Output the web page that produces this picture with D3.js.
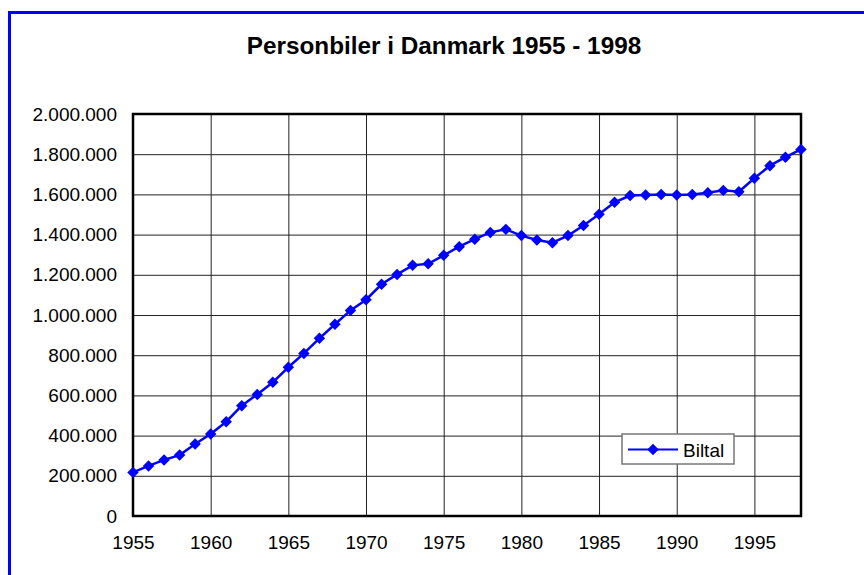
<!DOCTYPE html>
<html>
<head>
<meta charset="utf-8">
<script src="https://cdn.jsdelivr.net/npm/d3@7"></script>
<style>
  body { margin: 0; background: #fff; }
  svg text { font-family: "Liberation Sans", Arial, sans-serif; fill: #000; }
</style>
</head>
<body>
<div id="chart"></div>
<script>
// data
const years = [1955,1956,1957,1958,1959,1960,1961,1962,1963,1964,1965,1966,1967,1968,1969,
    1970,1971,1972,1973,1974,1975,1976,1977,1978,1979,1980,1981,1982,1983,1984,
    1985,1986,1987,1988,1989,1990,1991,1992,1993,1994,1995,1996,1997,1998];
const biltal = [217000,249000,279000,303000,358000,408000,469000,549000,605000,665000,740000,809000,884000,954000,1023000,
    1076000,1153000,1202000,1247000,1255000,1297000,1340000,1377000,1411000,1426000,1395000,1373000,1360000,1395000,1445000,
    1501000,1561000,1594000,1597000,1600000,1597000,1600000,1608000,1620000,1613000,1680000,1743000,1785000,1824000];
const yTicks = [0,200000,400000,600000,800000,1000000,1200000,1400000,1600000,1800000,2000000];
const xTicks = [1955,1960,1965,1970,1975,1980,1985,1990,1995];
const title = "Personbiler i Danmark 1955 - 1998";
const seriesName = "Biltal";

const W = 864, H = 575;
const plot = {l: 133, t: 114, r: 801, b: 516};

const svg = d3.select("#chart").append("svg")
    .attr("width", W).attr("height", H);

// outer chart border (runs off the right and bottom edge)
svg.append("rect")
    .attr("x", 9.5).attr("y", 12.5)
    .attr("width", W + 20).attr("height", H + 20)
    .attr("fill", "none").attr("stroke", "#0000ff").attr("stroke-width", 3);

svg.append("text").text(title)
    .attr("x", 444).attr("y", 54)
    .attr("text-anchor", "middle")
    .style("font-size", "24.3px").style("font-weight", "bold");

const x = d3.scaleLinear().domain([1955, 1998]).range([plot.l, plot.r]);
const y = d3.scaleLinear().domain([0, 2000000]).range([plot.b, plot.t]);

// thousands with dots, danish style
const fmt = d3.formatLocale({decimal: ",", thousands: ".", grouping: [3], currency: ["", " kr"]}).format(",");

// gridlines
svg.append("g").attr("class", "grid")
    .attr("transform", "translate(0," + plot.b + ")")
    .call(d3.axisBottom(x).tickValues(xTicks).tickSize(-(plot.b - plot.t)).tickFormat(""))
    .call(g => g.select(".domain").remove())
    .selectAll("line").attr("stroke", "#222").attr("stroke-width", 1);

svg.append("g").attr("class", "grid")
    .attr("transform", "translate(" + plot.l + ",0)")
    .call(d3.axisLeft(y).tickValues(yTicks).tickSize(-(plot.r - plot.l)).tickFormat(""))
    .call(g => g.select(".domain").remove())
    .selectAll("line").attr("stroke", "#222").attr("stroke-width", 1);

// plot frame
svg.append("rect")
    .attr("x", plot.l).attr("y", plot.t)
    .attr("width", plot.r - plot.l).attr("height", plot.b - plot.t)
    .attr("fill", "none").attr("stroke", "#000").attr("stroke-width", 2.5);

// axis labels
const yAxis = svg.append("g")
    .attr("transform", "translate(" + plot.l + ",0)")
    .call(d3.axisLeft(y).tickValues(yTicks).tickSize(0).tickPadding(16).tickFormat(fmt));
yAxis.select(".domain").remove();
yAxis.selectAll("text").style("font-size", "19px").attr("fill", "#000");

const xAxis = svg.append("g")
    .attr("transform", "translate(0," + plot.b + ")")
    .call(d3.axisBottom(x).tickValues(xTicks).tickSize(0).tickPadding(20).tickFormat(d3.format("d")));
xAxis.select(".domain").remove();
xAxis.selectAll("text").style("font-size", "19px").attr("fill", "#000");

// line + diamond markers
const line = d3.line()
    .x(function(d, i) { return x(years[i]); })
    .y(function(d) { return y(d); });

svg.append("path").datum(biltal)
    .attr("d", line)
    .attr("fill", "none").attr("stroke", "#0000ff").attr("stroke-width", 2.5);

const diamond = d3.symbol().type(d3.symbolDiamond2).size(84);
svg.selectAll(".pt").data(biltal).enter().append("path")
    .attr("class", "pt")
    .attr("d", diamond)
    .attr("transform", function(d, i) { return "translate(" + x(years[i]) + "," + y(d) + ")"; })
    .attr("fill", "#0000ff");

// legend
const leg = svg.append("g").attr("transform", "translate(622,434)");
leg.append("rect").attr("width", 112).attr("height", 30)
    .attr("fill", "#fff").attr("stroke", "#777").attr("stroke-width", 1.5);
leg.append("line").attr("x1", 6).attr("x2", 56).attr("y1", 15.5).attr("y2", 15.5)
    .attr("stroke", "#0000ff").attr("stroke-width", 2);
leg.append("path").attr("d", diamond)
    .attr("transform", "translate(31,15.5)").attr("fill", "#0000ff");
leg.append("text").text(seriesName)
    .attr("x", 61).attr("y", 22.5)
    .style("font-size", "19px");
</script>
</body>
</html>
